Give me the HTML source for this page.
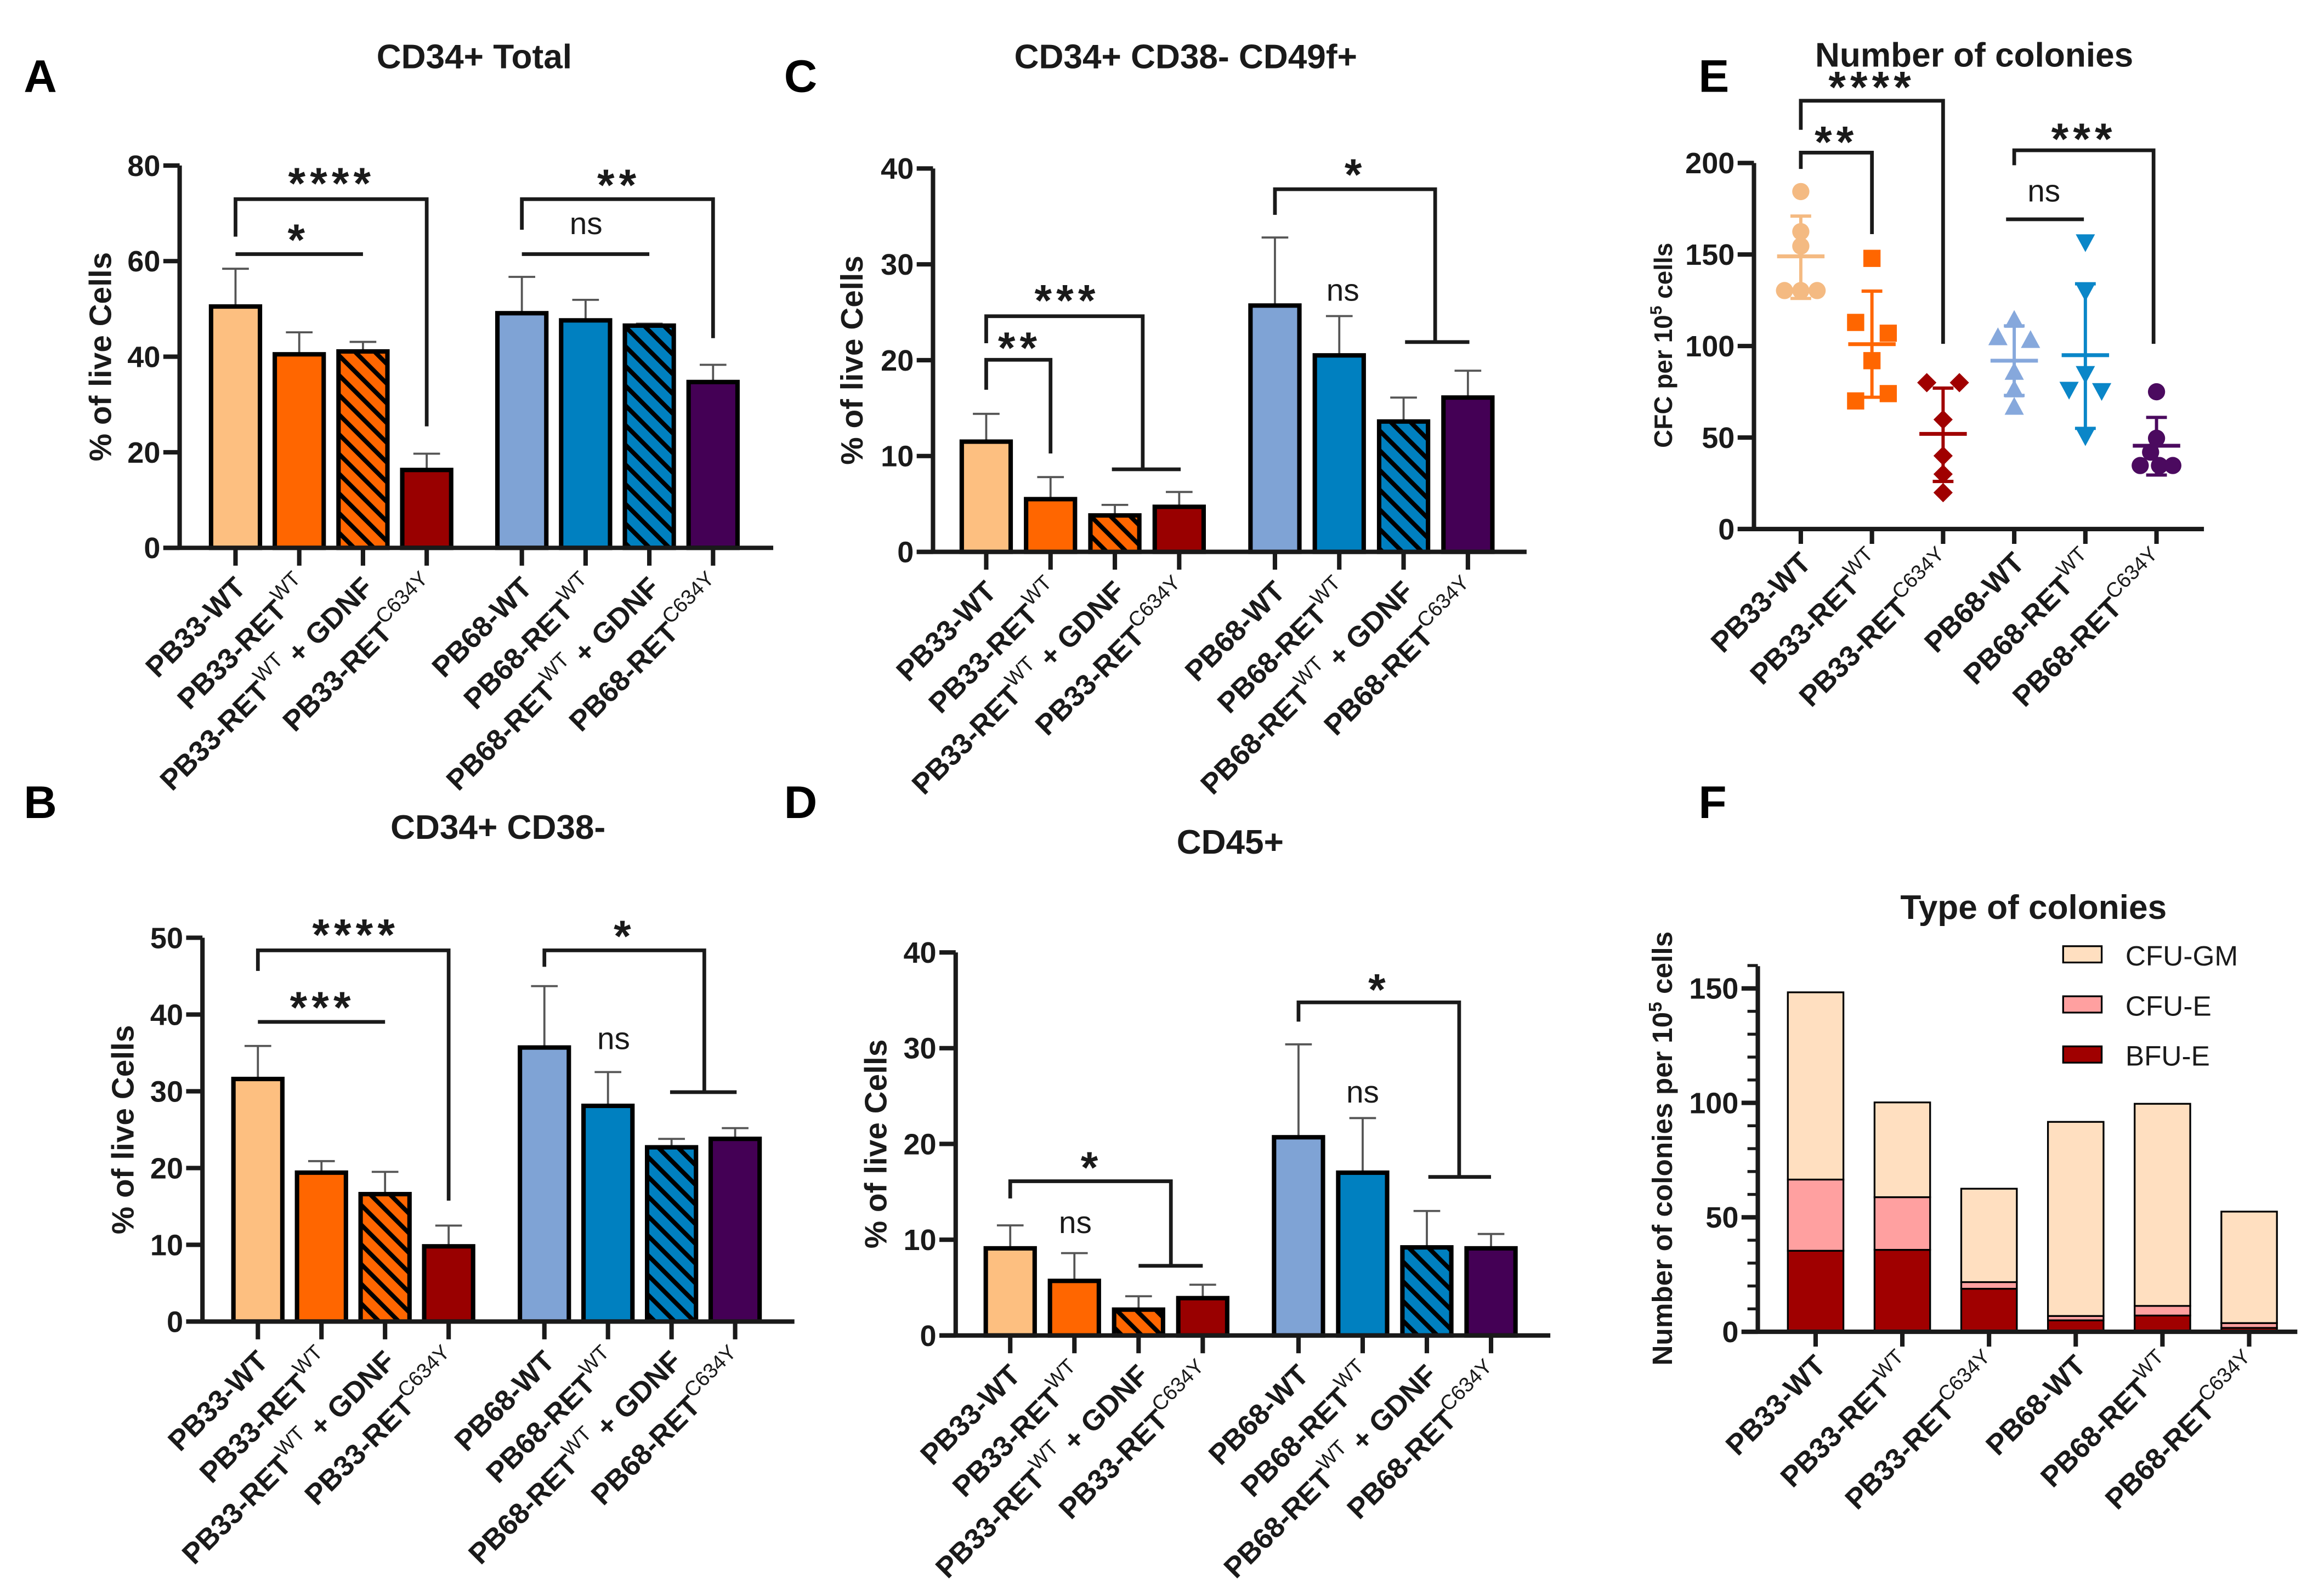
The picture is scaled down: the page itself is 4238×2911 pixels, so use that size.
<!DOCTYPE html>
<html><head><meta charset="utf-8">
<style>
html,body{margin:0;padding:0;background:#fff;}
svg{display:block;}
text{font-family:"Liberation Sans",sans-serif;}
</style></head>
<body>
<svg id="fig" xmlns="http://www.w3.org/2000/svg" width="4238" height="2911" viewBox="0 0 1568 1077" preserveAspectRatio="none">
<defs>
<pattern id="hatchO" patternUnits="userSpaceOnUse" width="9.4" height="9.4" patternTransform="rotate(-45)">
<rect width="9.4" height="9.4" fill="#FF6600"/><rect x="0" y="0" width="3" height="9.4" fill="#000"/></pattern>
<pattern id="hatchB" patternUnits="userSpaceOnUse" width="9.4" height="9.4" patternTransform="rotate(-45)">
<rect width="9.4" height="9.4" fill="#0080C0"/><rect x="0" y="0" width="3" height="9.4" fill="#000"/></pattern>
</defs>
<g id="root"></g>
</svg>
<script>
// ---------- DATA ----------
const barCats = [["PB33-WT","",""],["PB33-RET","WT",""],["PB33-RET","WT"," + GDNF"],["PB33-RET","C634Y",""],
                 ["PB68-WT","",""],["PB68-RET","WT",""],["PB68-RET","WT"," + GDNF"],["PB68-RET","C634Y",""]];
const colCats = [["PB33-WT","",""],["PB33-RET","WT",""],["PB33-RET","C634Y",""],["PB68-WT","",""],["PB68-RET","WT",""],["PB68-RET","C634Y",""]];
const A_vals = [50.5,40.5,41.1,16.3,49.1,47.6,46.5,34.7];
const A_errs = [58.4,45.1,43.1,19.7,56.7,51.9,46.9,38.3];
const A_ticks = [0,20,40,60,80];
const B_vals = [31.6,19.4,16.6,9.8,35.7,28.1,22.7,23.8];
const B_errs = [35.9,20.9,19.5,12.5,43.7,32.5,23.8,25.2];
const B_ticks = [0,10,20,30,40,50];
const C_vals = [11.5,5.5,3.8,4.7,25.7,20.5,13.6,16.1];
const C_errs = [14.4,7.8,4.9,6.25,32.8,24.6,16.1,18.9];
const C_ticks = [0,10,20,30,40];
const D_vals = [9.1,5.7,2.7,3.9,20.7,17.0,9.2,9.1];
const D_errs = [11.5,8.6,4.1,5.3,30.4,22.7,13.0,10.6];
const D_ticks = [0,10,20,30,40];
const E_points = [[184.4,162.5,154.6,130.3,130.3,130.3],[147.9,112.9,107,92,70,74],[80,80,59.8,40,30,19.9],
                  [114,104.5,103,85.6,76,66.5],[157,130,85,76.4,75.7,51],[75,49.6,42,34.7,34.7,34.7]];
const E_means = [149,101,52,92,95,45.5];
const E_errLo = [126,72,26,73,55,29.5];
const E_errHi = [171,130,77,111,134,61];
const E_ticks = [0,50,100,150,200];
const F_bfu = [35.4,35.8,18.8,5,7.1,1.7];
const F_cfue = [31.1,23,2.9,1.9,4.2,2.1];
const F_gm = [81.8,41.4,40.8,84.8,88.3,48.7];
const F_ticks = [0,50,100,150];
const F_legend = ["CFU-GM","CFU-E","BFU-E"];

// ---------- helpers ----------
const NS="http://www.w3.org/2000/svg";
const root=document.getElementById('root');
function mk(tag,attrs,parent){const e=document.createElementNS(NS,tag);for(const k in attrs)e.setAttribute(k,attrs[k]);(parent||root).appendChild(e);return e;}
function txt(s,attrs,parent){const e=mk('text',attrs,parent);e.textContent=s;return e;}
const barFills=["#FDBF80","#FF6600","url(#hatchO)","#990000","#7FA3D5","#0080C0","url(#hatchB)","#440055"];
const eCols=["#F4BA82","#FF6600","#A00000","#86A8DC","#0A86C8","#4B0A5F"];

function xLabel(g,cat,tx,ay,fs){
  const ax=tx+8, ay2=ay+28;
  const t=mk('text',{x:ax,y:ay2,'text-anchor':'end','font-size':fs,'font-weight':'bold',fill:'#1a1a1a',transform:`rotate(-45 ${ax} ${ay2})`},g);
  
  
  const a=document.createElementNS(NS,'tspan');a.textContent=cat[0];t.appendChild(a);
  if(cat[1]){const s=document.createElementNS(NS,'tspan');s.setAttribute('font-size',fs*0.72);s.setAttribute('font-weight','normal');s.setAttribute('dy',-9);s.textContent=cat[1];t.appendChild(s);}
  if(cat[2]){const s=document.createElementNS(NS,'tspan');s.setAttribute('dy',9);s.textContent=cat[2];t.appendChild(s);}
}
function yAxis(g,L,ticks,yf,fs){
  const ax=mk('line',{x1:L.left,y1:yf(ticks[ticks.length-1])-(L.extra||0),x2:L.left,y2:L.y0,stroke:'#1a1a1a','stroke-width':3},g);
  
  
  const xa=mk('line',{x1:L.left-11,y1:L.y0,x2:L.right,y2:L.y0,stroke:'#1a1a1a','stroke-width':3},g);
  
  
  ticks.forEach(v=>{
    const tk=mk('line',{x1:L.left-11,y1:yf(v),x2:L.left,y2:yf(v),stroke:'#1a1a1a','stroke-width':3},g);
    
    
    const tl=txt(String(v),{x:L.left-13,y:yf(v)+7,'text-anchor':'end','font-size':fs,'font-weight':'bold',fill:'#1a1a1a'},g);
    
    
  });
}
function bracket(g,x1,x2,yTop,yL,yR,name){
  const p=mk('path',{d:`M${x1},${yL} V${yTop} H${x2} V${yR}`,fill:'none',stroke:'#1a1a1a','stroke-width':2.5},g);
  
  
}
function hline(g,x1,x2,y,name){
  const p=mk('line',{x1:x1,x2:x2,y1:y,y2:y,stroke:'#1a1a1a','stroke-width':2.5},g);
  
  
}
function sig(g,s,x,y,name){
  const ns=s==='ns';
  const t=txt(s,{x:x,y:ns?y:y+7,'text-anchor':'middle','font-size':ns?21:30,'font-weight':ns?'normal':'bold','letter-spacing':ns?0:3,fill:'#1a1a1a'},g);
  
  
}
function title(s,x,y,name){const t=txt(s,{x:x,y:y,'text-anchor':'middle','font-size':23,'font-weight':'bold',fill:'#1a1a1a'});
  
  }
function letter(s,x,y){const t=txt(s,{x:x,y:y,'font-size':31,'font-weight':'bold',fill:'#000'});
  
  }
function yTitle(g,x,y,parts,fs){
  const t=mk('text',{x:x,y:y,'text-anchor':'middle','font-size':fs,'font-weight':'bold',fill:'#1a1a1a',transform:`rotate(-90 ${x} ${y})`},g);
  
  
  parts.forEach((p,i)=>{const s=document.createElementNS(NS,'tspan');s.textContent=p;
    if(i===1){s.setAttribute('font-size',fs*0.65);s.setAttribute('dy',-7);}
    if(i===2){s.setAttribute('dy',7);}
    t.appendChild(s);});
}

function barPanel(id,L,vals,errs,ticks){
  const g=mk('g',{});
  
  
  const ymax=ticks[ticks.length-1];
  const yf=v=>L.y0-(L.y0-L.top)*v/ymax;
  const xf=i=>L.x0+L.step*i+(i>=4?L.gap:0);
  vals.forEach((v,i)=>{
    const cx=xf(i);
    const eb=mk('path',{d:`M${cx},${yf(v)} V${yf(errs[i])} M${cx-9},${yf(errs[i])} H${cx+9}`,stroke:'#555','stroke-width':1.4,fill:'none'},g);
    
    
    const r=mk('rect',{x:cx-16.5,y:yf(v),width:33,height:L.y0-yf(v),fill:barFills[i],stroke:'#000','stroke-width':3},g);
    
    
  });
  yAxis(g,L,ticks,yf,20);
  vals.forEach((v,i)=>{
    const tk=mk('line',{x1:xf(i),x2:xf(i),y1:L.y0,y2:L.y0+12,stroke:'#1a1a1a','stroke-width':3},g);
    
    
    xLabel(g,barCats[i],xf(i),L.y0,19.5);
  });
  yTitle(g,L.ytx,(L.top+L.y0)/2,["% of live Cells"],21);
  return {g,xf,yf};
}

// ---------- Panel A ----------
letter("A",16,62); title("CD34+ Total",320,46,'title-a');
let P=barPanel('a',{x0:158.9,step:43,gap:21.2,y0:369.7,top:111.7,left:121.2,right:521.7,ytx:75},A_vals,A_errs,A_ticks);
bracket(P.g,P.xf(0),P.xf(3),134.4,159.7,287.7,'sig-bracket-a1');
sig(P.g,'****',223.8,127,'sig-label-a1');
hline(P.g,P.xf(0),P.xf(2),171.5,'sig-line-a2');
sig(P.g,'*',201.4,165,'sig-label-a2');
bracket(P.g,P.xf(4),P.xf(7),134.4,155,228.2,'sig-bracket-a3');
sig(P.g,'**',417.6,128,'sig-label-a3');
hline(P.g,P.xf(4),P.xf(6),171.5,'sig-line-a4');
sig(P.g,'ns',395.4,158,'sig-label-a4');

// ---------- Panel B ----------
letter("B",16,552); title("CD34+ CD38-",336,566,'title-b');
P=barPanel('b',{x0:174,step:42.9,gap:21.7,y0:891.8,top:632.8,left:136.6,right:536,ytx:90},B_vals,B_errs,B_ticks);
bracket(P.g,P.xf(0),P.xf(3),641.3,655.2,810.2,'sig-bracket-b1');
sig(P.g,'****',240,634,'sig-label-b1');
hline(P.g,P.xf(0),P.xf(2),689.6,'sig-line-b2');
sig(P.g,'***',217.6,683,'sig-label-b2');
bracket(P.g,P.xf(4),475.2,641.3,652.4,737,'sig-bracket-b3');
hline(P.g,P.xf(6)-1,P.xf(7)+1,737,'sig-line-b3');
sig(P.g,'*',421.4,635,'sig-label-b3');
sig(P.g,'ns',414,708,'sig-label-b4');

// ---------- Panel C ----------
letter("C",529,62); title("CD34+ CD38- CD49f+",800,46,'title-c');
P=barPanel('c',{x0:665.4,step:43.4,gap:21.2,y0:372.4,top:113.7,left:629.5,right:1030,ytx:582},C_vals,C_errs,C_ticks);
bracket(P.g,P.xf(0),771,213.4,231.6,316.7,'sig-bracket-c1');
hline(P.g,P.xf(2)-2,P.xf(3)+1,316.7,'sig-line-c1');
sig(P.g,'***',720,206,'sig-label-c1');
bracket(P.g,P.xf(0),P.xf(1),242.8,263,306,'sig-bracket-c2');
sig(P.g,'**',688,238,'sig-label-c2');
bracket(P.g,P.xf(4),968.3,127.7,145,230.8,'sig-bracket-c3');
hline(P.g,P.xf(6)+1,P.xf(7)+1,230.8,'sig-line-c3');
sig(P.g,'*',914.5,121,'sig-label-c3');
sig(P.g,'ns',906,203,'sig-label-c4');

// ---------- Panel D ----------
letter("D",529,552); title("CD45+",830,576,'title-d');
P=barPanel('d',{x0:681.6,step:43.3,gap:21.3,y0:901.2,top:642.7,left:644.8,right:1046,ytx:598},D_vals,D_errs,D_ticks);
bracket(P.g,P.xf(0),790,797.1,808.7,854.2,'sig-bracket-d1');
hline(P.g,P.xf(2),P.xf(3),854.2,'sig-line-d1');
sig(P.g,'*',736.5,791,'sig-label-d1');
sig(P.g,'ns',725.5,832,'sig-label-d2');
bracket(P.g,P.xf(4),984.5,676.4,689.4,794.2,'sig-bracket-d3');
hline(P.g,P.xf(6)+1,P.xf(7),794.2,'sig-line-d3');
sig(P.g,'*',930.5,671,'sig-label-d3');
sig(P.g,'ns',919.4,744,'sig-label-d4');

// ---------- Panel E ----------
(function(){
  letter("E",1146,62); title("Number of colonies",1332,45,'title-e');
  const g=mk('g',{});
  
  
  const L={x0:1215,step:48,y0:357,top:110,left:1183.4,right:1487};
  const yf=v=>L.y0-(L.y0-L.top)*v/200;
  const xf=i=>L.x0+L.step*i;
  const jit=[[0,0,0,-11,0,11],[0,-11,11,0,-11,11],[-11,11,0,0,0,0],[0,-11,11,0,0,0],[0,0,0,-11,11,0],[0,0,-4,-11,2,11]];
  yAxis(g,L,E_ticks,yf,20);
  E_points.forEach((pts,i)=>{
    const cx=xf(i),c=eCols[i];
    pts.forEach((v,j)=>{
      const x=cx+jit[i][j],y=yf(v);let m;
      if(i===0||i===5) m=mk('circle',{cx:x,cy:y,r:5.8,fill:c},g);
      else if(i===1) m=mk('rect',{x:x-5.8,y:y-5.8,width:11.6,height:11.6,fill:c},g);
      else if(i===2) m=mk('path',{d:`M${x},${y-6.5} L${x+6.5},${y} L${x},${y+6.5} L${x-6.5},${y} Z`,fill:c},g);
      else if(i===3) m=mk('path',{d:`M${x},${y-7} L${x+6.5},${y+5} L${x-6.5},${y+5} Z`,fill:c},g);
      else m=mk('path',{d:`M${x},${y+7} L${x+6.5},${y-5} L${x-6.5},${y-5} Z`,fill:c},g);
      
      
    });
    const ml=mk('line',{x1:cx-16,x2:cx+16,y1:yf(E_means[i]),y2:yf(E_means[i]),stroke:c,'stroke-width':2.6},g);
    
    
    const sd=mk('path',{d:`M${cx},${yf(E_errLo[i])} V${yf(E_errHi[i])} M${cx-7},${yf(E_errLo[i])} H${cx+7} M${cx-7},${yf(E_errHi[i])} H${cx+7}`,stroke:c,'stroke-width':2.2,fill:'none'},g);
    
    
    const tk=mk('line',{x1:cx,x2:cx,y1:L.y0,y2:L.y0+10,stroke:'#1a1a1a','stroke-width':3},g);
    
    
    xLabel(g,colCats[i],cx,L.y0-4,19.5);
  });
  yTitle(g,1128,233,["CFC per 10","5"," cells"],17);
  bracket(g,xf(0),xf(2),68,87.6,232,'sig-bracket-e1');
  sig(g,'****',1263,62,'sig-label-e1');
  bracket(g,xf(0),xf(1),103,114,158,'sig-bracket-e2');
  sig(g,'**',1239,99,'sig-label-e2');
  bracket(g,xf(3),1453,101.4,111.5,232,'sig-bracket-e3');
  sig(g,'***',1406,97,'sig-label-e3');
  hline(g,1353.5,1406,148,'sig-line-e4');
  sig(g,'ns',1379,136,'sig-label-e4');
})();

// ---------- Panel F ----------
(function(){
  letter("F",1146,552); title("Type of colonies",1372,620,'title-f');
  const g=mk('g',{});
  
  
  const L={x0:1225,step:58.5,y0:898.7,top:667,left:1186,right:1550,extra:15};
  const yf=v=>L.y0-(L.y0-L.top)*v/150;
  const xf=i=>L.x0+L.step*i;
  const cols=["#FFDFC0","#FFA0A0","#A00000"];
  F_bfu.forEach((b,i)=>{
    const cx=xf(i),w=37.5;
    const segs=[[0,b,cols[2],'bfu-e'],[b,b+F_cfue[i],cols[1],'cfu-e'],[b+F_cfue[i],b+F_cfue[i]+F_gm[i],cols[0],'cfu-gm']];
    segs.forEach(s=>{
      const r=mk('rect',{x:cx-w/2,y:yf(s[1]),width:w,height:yf(s[0])-yf(s[1]),fill:s[2],stroke:'#000','stroke-width':1.2},g);
      
      
    });
    const tk=mk('line',{x1:cx,x2:cx,y1:L.y0,y2:L.y0+10,stroke:'#1a1a1a','stroke-width':3},g);
    
    
    xLabel(g,colCats[i],cx,L.y0-4,19.5);
  });
  yAxis(g,L,F_ticks,yf,20);
  for(let v=10;v<=160;v+=10){ if(v%50===0)continue;
    const mt=mk('line',{x1:L.left-7,x2:L.left,y1:yf(v),y2:yf(v),stroke:'#1a1a1a','stroke-width':2},g);
    
    
  }
  yTitle(g,1128,775,["Number of colonies per 10","5"," cells"],19);
  F_legend.forEach((s,i)=>{
    const y=644.5+i*33.8;
    const r=mk('rect',{x:1392,y:y-6,width:26,height:11,fill:cols[i],stroke:'#000','stroke-width':1.2},g);
    
    
    const t=txt(s,{x:1434,y:y+7,'font-size':19,fill:'#1a1a1a'},g);
    
    
  });
})();
</script>
</body></html>
